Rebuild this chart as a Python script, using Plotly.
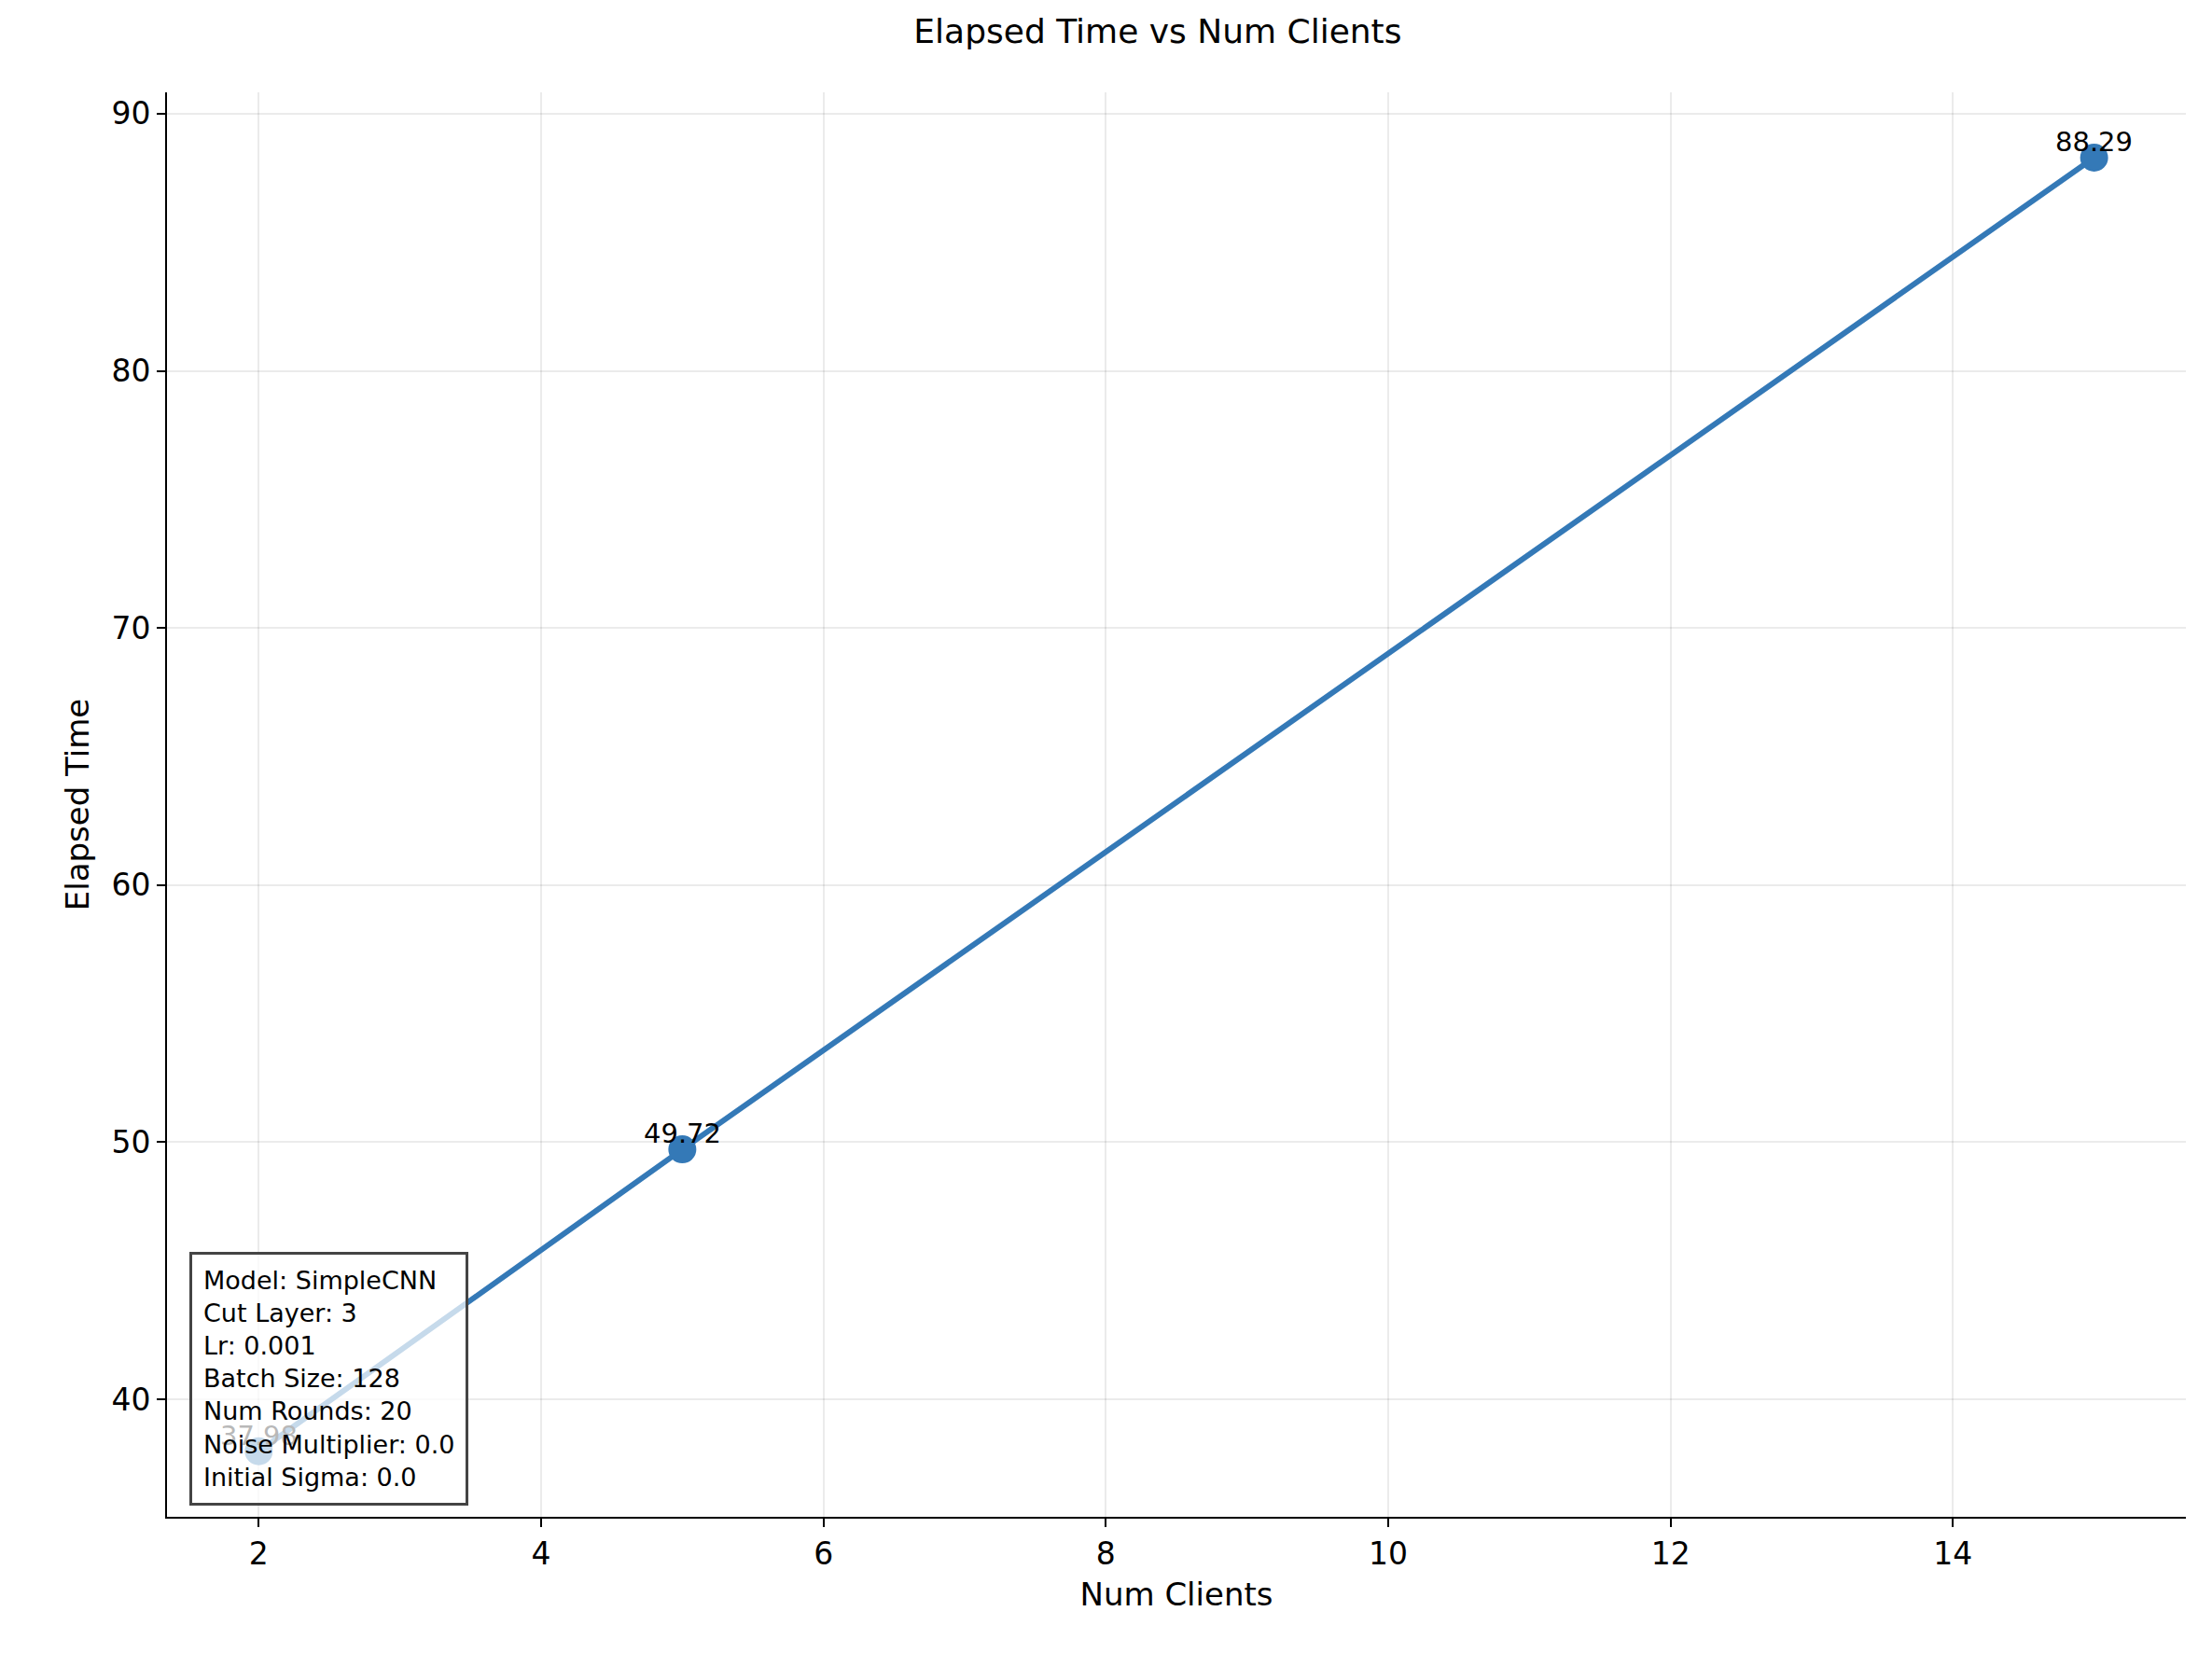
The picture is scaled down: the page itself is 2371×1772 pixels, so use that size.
import plotly.graph_objects as go

num_clients = [2, 5, 15]
elapsed_time = [37.98, 49.72, 88.29]
labels = [f"{v:.2f}" for v in elapsed_time]
params = ["Model: SimpleCNN", "Cut Layer: 3", "Lr: 0.001", "Batch Size: 128",
          "Num Rounds: 20", "Noise Multiplier: 0.0", "Initial Sigma: 0.0"]

blue = "#3479b7"
font = "DejaVu Sans"

fig = go.Figure()
fig.add_trace(go.Scatter(
    x=num_clients, y=elapsed_time, mode="lines+markers",
    line=dict(color=blue, width=6), marker=dict(color=blue, size=30),
    showlegend=False))

# value labels sit just above each point, overlapping the marker a little
for x, y, t in zip(num_clients, elapsed_time, labels):
    fig.add_annotation(x=x, y=y, text=t, showarrow=False, yanchor="bottom", yshift=-2,
                       font=dict(family=font, size=29, color="black"))

fig.add_annotation(
    xref="paper", yref="paper", x=0.011, y=0.008, xanchor="left", yanchor="bottom",
    text="<br>".join(params), align="left", showarrow=False,
    font=dict(family=font, size=27, color="black"),
    bgcolor="rgba(255,255,255,0.72)", bordercolor="#444444", borderwidth=3, borderpad=12)

axis_common = dict(showline=True, linecolor="black", linewidth=2, ticks="outside",
                   ticklen=9, tickwidth=2, tickcolor="black", showgrid=True,
                   gridcolor="rgba(0,0,0,0.08)", gridwidth=2, zeroline=False,
                   tickfont=dict(family=font, size=33, color="black"), mirror=False)

fig.update_xaxes(range=[1.35, 15.65], tickvals=[2, 4, 6, 8, 10, 12, 14],
                 title=dict(text="Num Clients", font=dict(family=font, size=34, color="black"), standoff=14),
                 **axis_common)
fig.update_yaxes(range=[35.43, 90.83], tickvals=[40, 50, 60, 70, 80, 90],
                 title=dict(text="Elapsed Time", font=dict(family=font, size=34, color="black"), standoff=14),
                 **axis_common)

fig.update_layout(
    width=2371, height=1772,
    margin=dict(l=171, r=36, t=91, b=154),
    paper_bgcolor="white", plot_bgcolor="white",
    title=dict(text="Elapsed Time vs Num Clients", x=0.52, xanchor="center", y=0.993, yanchor="top",
               font=dict(family=font, size=36, color="black")),
)

fig.write_html("out.html")
